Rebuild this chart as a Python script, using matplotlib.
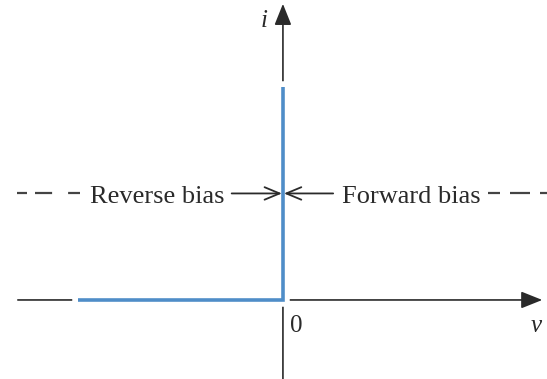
import matplotlib
matplotlib.use("Agg")
import matplotlib.pyplot as plt

# ideal diode i-v characteristic
v = [-1.0, 0.0, 0.0]
i = [0.0, 0.0, 1.0]
bias_level = 0.5
reverse_label = "Reverse bias"
forward_label = "Forward bias"

plt.rcParams["font.family"] = ["Liberation Serif", "DejaVu Serif"]
ink = "#2a2a2a"
blue = "#4f8dc8"

fig = plt.figure(figsize=(5.47, 3.79), dpi=100)
ax = fig.add_axes([0, 0, 1, 1])
ax.set_xlim(-1.38, 1.288)
ax.set_ylim(-0.371, 1.408)
ax.axis("off")

# axes with filled arrowheads
axis_arrow = dict(arrowstyle="-|>,head_length=0.65,head_width=0.26", color=ink,
                  lw=1.2, mutation_scale=20, shrinkA=0, shrinkB=0)
ax.annotate("", xy=(1.265, 0), xytext=(-1.293, 0), arrowprops=axis_arrow, zorder=2)
ax.annotate("", xy=(0, 1.39), xytext=(0, -0.371), arrowprops=axis_arrow, zorder=2)

# characteristic, with a white halo that breaks the axes around it
ax.plot(v, i, color="white", lw=9, solid_capstyle="projecting",
        solid_joinstyle="miter", zorder=3)
ax.plot(v, i, color=blue, lw=2.6, solid_capstyle="butt",
        solid_joinstyle="miter", zorder=6)

# bias annotations
label_kw = dict(fontsize=19, color=ink, va="baseline")
ax.text(-0.283, bias_level - 0.045, reverse_label, ha="right", **label_kw)
ax.text(0.288, bias_level - 0.045, forward_label, ha="left", **label_kw)

bias_arrow = dict(arrowstyle="->,head_length=0.6,head_width=0.25", color=ink,
                  lw=1.3, mutation_scale=18, shrinkA=0, shrinkB=0)
ax.annotate("", xy=(-0.005, bias_level), xytext=(-0.25, bias_level),
            arrowprops=bias_arrow, zorder=5)
ax.annotate("", xy=(0.005, bias_level), xytext=(0.245, bias_level),
            arrowprops=bias_arrow, zorder=5)

# short-long-short dashes leading into the labels
ax.plot([-1.297, -0.99], [bias_level, bias_level], color="#444444", lw=1.6,
        linestyle=(0, (4.5, 3.6, 7.7, 7.2, 5.4, 20)))
ax.plot([1.0, 1.288], [bias_level, bias_level], color="#444444", lw=1.6,
        linestyle=(0, (5.4, 4.5, 9, 4.5, 10, 10)))

# axis labels
ax.text(-0.073, 1.282, "i", fontsize=18, style="italic", ha="right", va="baseline", color=ink)
ax.text(1.234, -0.150, "v", fontsize=18, style="italic", ha="center", va="baseline", color=ink)
ax.text(0.034, -0.150, "0", fontsize=18, ha="left", va="baseline", color=ink)

fig.savefig("out.png", dpi=100)
